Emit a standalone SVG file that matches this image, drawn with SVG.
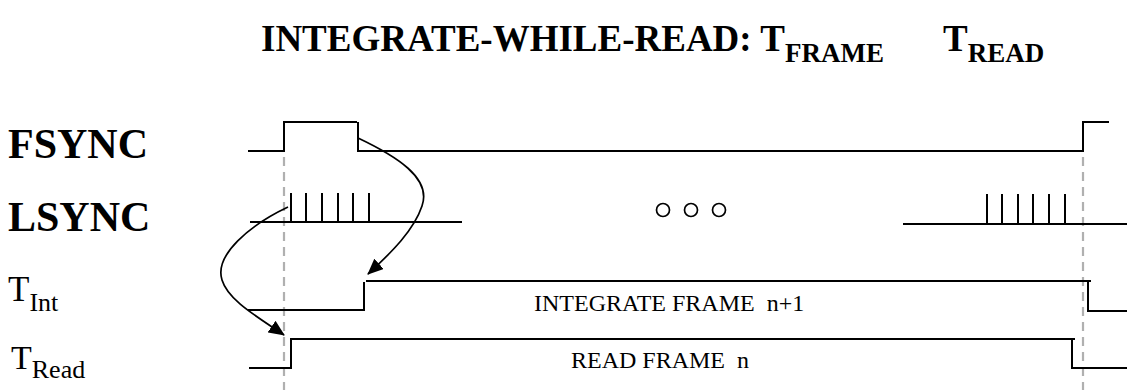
<svg xmlns="http://www.w3.org/2000/svg" width="1127" height="390" viewBox="0 0 1127 390">
<style>
.w{fill:none;stroke:#000;stroke-width:2}
.d{fill:none;stroke:#b0b0b0;stroke-width:2.2;stroke-dasharray:9,6}
.c{fill:none;stroke:#000;stroke-width:1.7}
.lb{font-family:"Liberation Serif","Times New Roman",serif;font-weight:bold;fill:#000}
.lr{font-family:"Liberation Serif","Times New Roman",serif;fill:#000;white-space:pre}
</style>
<defs>
<marker id="ah" markerWidth="16" markerHeight="14" refX="15" refY="7" orient="auto" markerUnits="userSpaceOnUse" viewBox="0 0 16 14">
<path d="M0,0 L16,7 L0,14 z" fill="#000"/>
</marker>
</defs>
<rect width="1127" height="390" fill="#fff"/>
<g id="title">
<text class="lb" x="261" y="51" font-size="37">INTEGRATE-WHILE-READ: T<tspan font-size="27" dy="11">FRAME</tspan><tspan dy="-11" font-size="37" x="943">T</tspan><tspan font-size="27" dy="11">READ</tspan></text>
</g>
<g id="guides">
<line class="d" x1="284" y1="157" x2="284" y2="390"/>
<line class="d" x1="1083" y1="157" x2="1083" y2="390"/>
</g>
<g id="fsync">
<text class="lb" x="8" y="158" font-size="42">FSYNC</text>
<polyline class="w" points="248,151 284,151 284,122 357,122"/>
<polyline class="w" points="358,122 358,151 1083,151 1083,122 1109,122"/>
</g>
<g id="lsync">
<text class="lb" x="8" y="231" font-size="42">LSYNC</text>
<line class="w" x1="250" y1="222" x2="462" y2="222"/>
<path class="w" d="M291,193V222M306,193V222M322,193V222M338,193V222M353,193V222M369,193V222"/>
<g class="c"><circle cx="663" cy="210" r="6.5"/><circle cx="691" cy="210" r="6.5"/><circle cx="719" cy="210" r="6.5"/></g>
<line class="w" x1="903" y1="224" x2="1127" y2="224"/>
<path class="w" d="M987,194V224M1002,194V224M1018,194V224M1033,194V224M1049,194V224M1065,194V224"/>
</g>
<g id="tint">
<text class="lr" x="8" y="301" font-size="35">T<tspan font-size="26" dy="10">Int</tspan></text>
<polyline class="w" points="248,310 364,310 364,282"/>
<polyline class="w" points="366,281 1091,281"/>
<polyline class="w" points="1088,282 1088,311 1127,311"/>
<text class="lr" x="534" y="311" font-size="24" xml:space="preserve">INTEGRATE FRAME  n+1</text>
</g>
<g id="tread">
<text class="lr" x="11" y="369" font-size="34">T<tspan font-size="26" dy="9">Read</tspan></text>
<polyline class="w" points="249,368 291,368 291,339 1075,339"/>
<polyline class="w" points="1072,340 1072,368 1127,368"/>
<text class="lr" x="571" y="368" font-size="24" xml:space="preserve">READ FRAME  n</text>
</g>
<g id="connectors">
<path class="c" d="M358,138 C396,156 432,178 422,206 C414,230 392,252 368,274" marker-end="url(#ah)"/>
<path class="c" d="M288,207 C250,225 214,255 222,280 C228,300 256,316 284,335" marker-end="url(#ah)"/>
</g>
</svg>
